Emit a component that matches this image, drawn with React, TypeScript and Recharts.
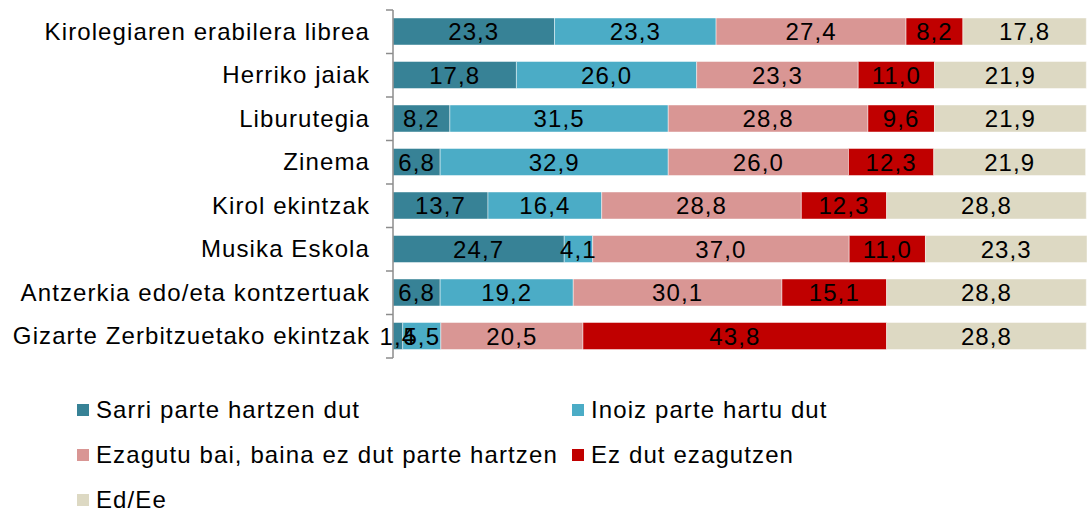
import { BarChart, Bar, XAxis, YAxis, LabelList } from "recharts"

const categories = [
  "Kirolegiaren erabilera librea",
  "Herriko jaiak",
  "Liburutegia",
  "Zinema",
  "Kirol ekintzak",
  "Musika Eskola",
  "Antzerkia edo/eta kontzertuak",
  "Gizarte Zerbitzuetako ekintzak",
]

const sarri = [23.3, 17.8, 8.2, 6.8, 13.7, 24.7, 6.8, 1.4]
const inoiz = [23.3, 26.0, 31.5, 32.9, 16.4, 4.1, 19.2, 5.5]
const ezagutuBai = [27.4, 23.3, 28.8, 26.0, 28.8, 37.0, 30.1, 20.5]
const ezDutEzagutzen = [8.2, 11.0, 9.6, 12.3, 12.3, 11.0, 15.1, 43.8]
const edEe = [17.8, 21.9, 21.9, 21.9, 28.8, 23.3, 28.8, 28.8]

const series = [
  { key: "sarri", name: "Sarri parte hartzen dut", color: "#378296", values: sarri },
  { key: "inoiz", name: "Inoiz parte hartu dut", color: "#4bacc6", values: inoiz },
  { key: "ezagutu", name: "Ezagutu bai, baina ez dut parte hartzen", color: "#d99694", values: ezagutuBai },
  { key: "ez", name: "Ez dut ezagutzen", color: "#c00000", values: ezDutEzagutzen },
  { key: "ed", name: "Ed/Ee", color: "#ddd9c3", values: edEe },
]

const data = categories.map((name, i) => {
  const row: Record<string, string | number> = { name }
  series.forEach((s) => {
    row[s.key] = s.values[i]
  })
  return row
})

const FONT = "'Liberation Sans', Arial, sans-serif"
const FS = 24
const LS = 1.1
const TOP = 10
const BOTTOM = 358
const BAND = (BOTTOM - TOP) / categories.length

function CategoryTick(props: any) {
  const { x, y, payload, index } = props
  return (
    <g>
      <line x1={x - 7} x2={x} y1={y - BAND / 2} y2={y - BAND / 2} stroke="#8c8c8c" strokeWidth={1.5} />
      {index === categories.length - 1 && (
        <line x1={x - 7} x2={x} y1={y + BAND / 2} y2={y + BAND / 2} stroke="#8c8c8c" strokeWidth={1.5} />
      )}
      <text
        x={x - 23}
        y={y}
        dy={8}
        textAnchor="end"
        fontSize={FS}
        letterSpacing={LS}
        fill="#000"
        fontFamily={FONT}
      >
        {payload.value}
      </text>
    </g>
  )
}

const fmt = (v: any) => Number(v).toFixed(1).replace(".", ",")

export default function App() {
  return (
    <div style={{ position: "absolute", left: 0, top: 0, width: 1087, height: 511, background: "#fff" }}>
      <BarChart
        width={1087}
        height={511}
        data={data}
        layout="vertical"
        margin={{ top: TOP, right: 0, left: 0, bottom: 511 - BOTTOM }}
      >
        <XAxis type="number" domain={[0, 100]} hide />
        <YAxis
          type="category"
          dataKey="name"
          width={393}
          axisLine={{ stroke: "#8c8c8c", strokeWidth: 1.5 }}
          tickLine={false}
          tickSize={0}
          tickMargin={0}
          interval={0}
          tick={<CategoryTick />}
        />
        {series.map((s) => (
          <Bar
            key={s.key}
            dataKey={s.key}
            name={s.name}
            stackId="a"
            fill={s.color}
            barSize={27}
            stroke="rgba(255,255,255,0.45)"
            strokeWidth={1}
            isAnimationActive={false}
          >
            <LabelList
              dataKey={s.key}
              position="center"
              formatter={fmt}
              fill="#000"
              fontSize={FS}
              letterSpacing={LS}
              fontFamily={FONT}
            />
          </Bar>
        ))}
      </BarChart>
      <div style={{ position: "absolute", left: 0, top: 0, fontFamily: FONT, fontSize: FS, letterSpacing: LS, color: "#000" }}>
        {series.map((s, i) => (
          <div
            key={s.key}
            style={{
              position: "absolute",
              left: i % 2 === 0 ? 77 : 572,
              top: 410 + Math.floor(i / 2) * 45 - 14,
              display: "flex",
              alignItems: "center",
              whiteSpace: "nowrap",
              height: 28,
            }}
          >
            <span style={{ display: "inline-block", width: 12, height: 12, background: s.color, marginRight: 7 }} />
            <span>{s.name}</span>
          </div>
        ))}
      </div>
    </div>
  )
}
